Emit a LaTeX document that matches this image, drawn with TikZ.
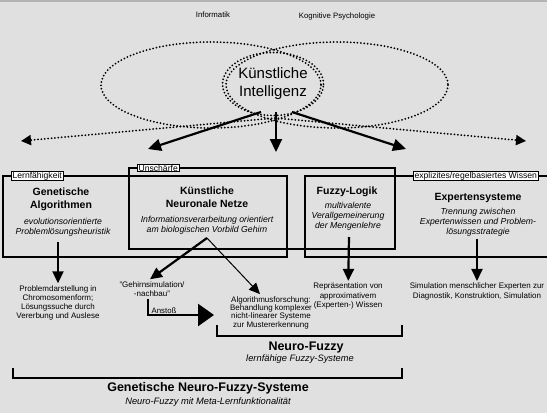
\documentclass[tikz,border=0pt]{standalone}
\usepackage{fontspec}
\setmainfont{Liberation Sans}
\usetikzlibrary{arrows.meta,shapes.geometric}
\definecolor{bggray}{HTML}{E0E0E0}
\definecolor{topgray}{HTML}{B4B4B4}

\begin{document}
\begin{tikzpicture}[x=1pt,y=-1pt,
    box/.style={line width=2.2pt},
    tag/.style={draw,fill=white,line width=0.8pt,inner xsep=1.2pt,inner ysep=0.4pt,font=\fontsize{8.6}{9}\selectfont},
    head/.style={font=\fontsize{10.5}{13}\bfseries\selectfont,align=center,inner sep=1pt},
    sub/.style={font=\fontsize{8.7}{10}\itshape\selectfont,align=center,inner sep=1pt},
    txt/.style={font=\fontsize{8}{9.2}\selectfont,align=center,inner sep=2pt},
    arr/.style={line width=2.2pt,-{Triangle[length=12pt,width=11pt]}},
    dots/.style={line width=2pt,dash pattern=on 0pt off 3.4pt,line cap=round}]
			\useasboundingbox (0,0) rectangle (547,413);
			\fill[bggray] (0,0) rectangle (547,413);
			\fill[topgray] (0,0) rectangle (547,1.5);
			% Fachgebiete
			\node[font=\fontsize{7.8}{9}\selectfont] (inf) at (213,15) {Informatik};
			\node[font=\fontsize{7.8}{9}\selectfont] (kog) at (337,16) {Kognitive Psychologie};
			\draw[dots] (211,85) ellipse [x radius=110, y radius=43];
			\draw[dots] (337,85) ellipse [x radius=111, y radius=43];
			\node[ellipse,draw,dots,minimum width=101pt,minimum height=63pt,inner sep=0pt,
			      font=\fontsize{15}{18}\selectfont,align=center] (ki) at (273,84) {Künstliche\\Intelligenz};
			\coordinate (kl) at (261,112);
			\coordinate (km) at (276,112);
			\coordinate (kr) at (292,112);
			\coordinate (kd) at (275,118);
			\coordinate (tl) at (148,149);
			\coordinate (tm) at (276,152);
			\coordinate (tr) at (406,149);
			\coordinate (dl) at (21,141);
			\coordinate (dr) at (526,141);
			\draw[arr,-{Triangle[length=13pt,width=12pt]}] (kl) -- (tl);
			\draw[arr,-{Triangle[length=13pt,width=12pt]}] (km) -- (tm);
			\draw[arr,-{Triangle[length=13pt,width=12pt]}] (kr) -- (tr);
			\draw[dots,-{Triangle[length=10pt,width=10pt]}] (kd) -- (dl);
			\draw[dots,-{Triangle[length=10pt,width=10pt]}] (kd) -- (dr);
			% Bereiche
			\draw[box] (3,176) rectangle (287,257);
			\draw[box] (129,168) rectangle (395,249);
			\draw[box] (548,176) -- (305,176) -- (305,257) -- (548,257);
			\node[tag,anchor=west] (lern) at (11,176) {Lernfähigkeit};
			\node[tag,anchor=west] (unsch) at (137,168) {Unschärfe};
			\node[tag,anchor=west] (expl) at (413,176) {explizites/regelbasiertes Wissen};
			% Teilgebiete
			\node[head] (gen) at (61,199.5) {Genetische\\Algorithmen};
			\node[sub] (gensub) at (63,227) {evolutionsorientierte\\Problemlösungsheuristik};
			\node[head] (knn) at (207,197.5) {Künstliche\\Neuronale Netze};
			\node[sub] (knnsub) at (207,225) {Informationsverarbeitung orientiert\\am biologischen  Vorbild Gehirn};
			\node[head] (fuz) at (347,192) {Fuzzy-Logik};
			\node[sub] (fuzsub) at (348,216) {multivalente\\Verallgemeinerung\\der  Mengenlehre};
			\node[head] (exp) at (478,198) {Expertensysteme};
			\node[sub] (expsub) at (478,222.5) {Trennung zwischen\\Expertenwissen und Problem-\\lösungsstrategie};
			% Anwendungen
			\node[txt] (prob) at (58,303) {Problemdarstellung in\\Chromosomenform;\\Lösungssuche durch\\Vererbung und Auslese};
			\node[txt] (gehirn) at (152,289) {"Gehirnsimulation/\\-nachbau"};
			\node[txt,font=\fontsize{8}{8.3}\selectfont] (algo) at (271,312.5) {Algorithmusforschung:\\Behandlung komplexer\\nicht-linearer Systeme\\zur Mustererkennung};
			\node[txt] (repr) at (348,296) {Repräsentation von\\approximativem\\(Experten-) Wissen};
			\node[txt] (simu) at (477,291.5) {Simulation menschlicher Experten zur\\Diagnostik, Konstruktion, Simulation};
			\coordinate (g1) at (58,242);
			\coordinate (n1) at (207,238);
			\coordinate (f1) at (349,237);
			\coordinate (e1) at (477,239);
			\draw[arr] (g1) -- (prob);
			\draw[arr] (f1) -- (repr);
			\draw[arr] (e1) -- (simu);
			\draw[arr] (n1) -- (gehirn.north -| 150,0);
			\draw[line width=1pt,-{Triangle[length=11pt,width=10pt]}] (n1) -- (algo.north -| 260,0);
			\coordinate (anst) at (214,315);
			\draw[line width=2.5pt,-{Triangle[length=16pt,width=22pt]}] ([xshift=-4pt]gehirn.south) |- (anst);
			\node[font=\fontsize{7.8}{9}\selectfont,anchor=south west,inner sep=0.5pt] (anstoss) at (151,314) {Anstoß};
			% Verbindungen
			\draw[box] (217,325) -- (217,336) -- (402,336) -- (402,325);
			\node[font=\fontsize{12.5}{14}\bfseries\selectfont] (nf) at (306,347) {Neuro-Fuzzy};
			\node[font=\fontsize{9.3}{11}\itshape\selectfont] (nfsub) at (300,359) {lernfähige Fuzzy-Systeme};
			\draw[box] (13,368) -- (13,378) -- (402,378) -- (402,368);
			\node[font=\fontsize{12.5}{14}\bfseries\selectfont] (gnf) at (208,388) {Genetische Neuro-Fuzzy-Systeme};
			\node[font=\fontsize{9.3}{11}\itshape\selectfont] (gnfsub) at (208,402) {Neuro-Fuzzy mit Meta-Lernfunktionalität};
\end{tikzpicture}
\end{document}
